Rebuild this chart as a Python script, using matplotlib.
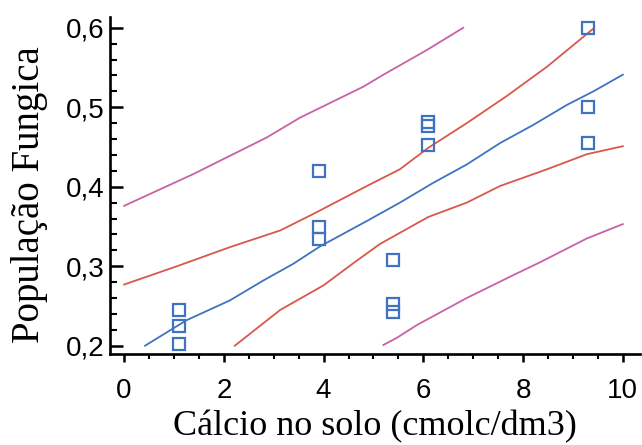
import matplotlib.pyplot as plt
from matplotlib.ticker import MultipleLocator, FuncFormatter

# Observations: calcium in soil vs fungal population
calcio = [1.1, 1.1, 1.1, 3.9, 3.9, 3.9, 5.4, 5.4, 5.4, 6.1, 6.1, 6.1, 9.3, 9.3, 9.3]
populacao = [0.245, 0.225, 0.202, 0.420, 0.350, 0.334, 0.308, 0.252, 0.242,
             0.481, 0.476, 0.452, 0.600, 0.500, 0.455]

# Fitted model
ajuste_x = [0.42, 1.25, 2.12, 2.79, 3.39, 3.93, 4.87, 5.53, 6.20, 6.87, 7.54, 8.21, 8.88, 9.41, 10.0]
ajuste_y = [0.200, 0.232, 0.257, 0.282, 0.303, 0.325, 0.357, 0.380, 0.405, 0.428, 0.455, 0.478, 0.503, 0.520, 0.541]

# Confidence limits for the mean
conf_sup_x = [0.0, 1.06, 2.12, 3.13, 3.80, 4.87, 5.53, 6.10, 6.87, 7.67, 8.48, 9.41]
conf_sup_y = [0.277, 0.300, 0.324, 0.345, 0.366, 0.401, 0.422, 0.449, 0.480, 0.514, 0.551, 0.599]
conf_inf_x = [2.22, 3.13, 4.00, 4.60, 5.13, 6.10, 6.87, 7.54, 8.48, 9.28, 10.0]
conf_inf_y = [0.200, 0.245, 0.276, 0.304, 0.328, 0.362, 0.380, 0.401, 0.422, 0.441, 0.451]

# Prediction limits
pred_sup_x = [0.0, 1.39, 2.86, 3.53, 4.80, 5.20, 6.07, 6.80]
pred_sup_y = [0.376, 0.416, 0.462, 0.487, 0.526, 0.541, 0.572, 0.600]
pred_inf_x = [5.20, 5.47, 5.87, 6.87, 7.81, 8.34, 9.28, 10.0]
pred_inf_y = [0.201, 0.210, 0.226, 0.260, 0.289, 0.305, 0.335, 0.353]

azul = '#3f73c0'
vermelho = '#d9574b'
magenta = '#c862a6'

fig = plt.figure(figsize=(6.42, 4.45), dpi=100)
ax = fig.add_axes([0.1713, 0.2045, 0.826, 0.757])

ax.plot(pred_sup_x, pred_sup_y, color=magenta, lw=1.3)
ax.plot(pred_inf_x, pred_inf_y, color=magenta, lw=1.3)
ax.plot(conf_sup_x, conf_sup_y, color=vermelho, lw=1.3)
ax.plot(conf_inf_x, conf_inf_y, color=vermelho, lw=1.3)
ax.plot(ajuste_x, ajuste_y, color=azul, lw=1.3)
ax.plot(calcio, populacao, linestyle='none', marker='s', markersize=8.5,
        markerfacecolor='none', markeredgecolor=azul, markeredgewidth=1.6)

ax.set_xlim(-0.283, 10.35)
ax.set_ylim(0.1896, 0.6134)

ax.spines['top'].set_visible(False)
ax.spines['right'].set_visible(False)
for s in ('left', 'bottom'):
    ax.spines[s].set_linewidth(1.9)

ax.xaxis.set_major_locator(MultipleLocator(2))
ax.xaxis.set_minor_locator(MultipleLocator(0.5))
ax.yaxis.set_major_locator(MultipleLocator(0.1))
ax.yaxis.set_minor_locator(MultipleLocator(0.02))
ax.yaxis.set_major_formatter(FuncFormatter(lambda v, p: f'{v:.1f}'.replace('.', ',')))

ax.tick_params(axis='x', which='major', direction='out', length=6, width=1.8,
               pad=11, labelsize=20)
ax.tick_params(axis='x', which='minor', direction='out', length=3.5, width=1.5)
ax.tick_params(axis='y', which='major', direction='in', length=9, width=1.8,
               pad=4, labelsize=20)
ax.tick_params(axis='y', which='minor', direction='in', length=5, width=1.5)
for lbl in ax.get_xticklabels() + ax.get_yticklabels():
    lbl.set_fontfamily('Liberation Sans')

fig.text(375 / 642, 1 - 427 / 445, 'Cálcio no solo (cmolc/dm3)',
         fontfamily='Liberation Serif', fontsize=26, ha='center', va='center')
fig.text(30 / 642, 1 - 195 / 445, 'População Fungica', rotation=90,
         fontfamily='Liberation Serif', fontsize=28, ha='center', va='center')

fig.savefig('out.png', dpi=100)
